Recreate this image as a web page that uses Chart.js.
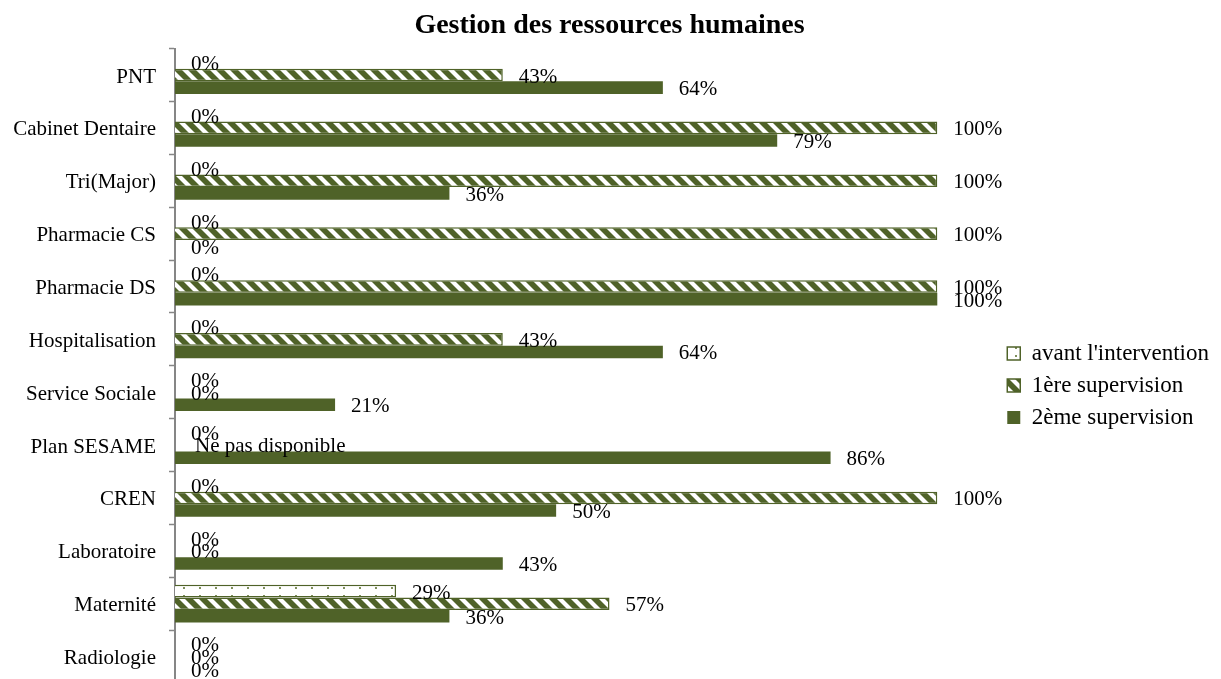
<!DOCTYPE html>
<html>
<head>
<meta charset="utf-8">
<script src="https://cdn.jsdelivr.net/npm/chart.js@4.4.1/dist/chart.umd.min.js"></script>
<style>
  html, body { margin: 0; padding: 0; background: #ffffff; overflow: hidden; }
  #wrap { width: 1221px; height: 679px; position: relative; overflow: hidden; }
  #chart { display: block; }
</style>
</head>
<body>
<div id="wrap"><canvas id="chart" width="1221" height="683"></canvas></div>
<script>
// Categories (top to bottom) and the three measurement rounds, in percent.
const categories = ['PNT', 'Cabinet Dentaire', 'Tri(Major)', 'Pharmacie CS', 'Pharmacie DS',
  'Hospitalisation', 'Service Sociale', 'Plan SESAME', 'CREN', 'Laboratoire', 'Maternité', 'Radiologie'];
const seriesNames = ["avant l'intervention", '1ère supervision', '2ème supervision'];
const avantIntervention = [0, 0, 0, 0, 0, 0, 0, 0, 0, 0, 29, 0];
const premiereSupervision = [43, 100, 100, 100, 100, 43, 0, null, 100, 0, 57, 0];
const deuxiemeSupervision = [64, 79, 36, 0, 100, 64, 21, 86, 50, 43, 36, 0];
const missingText = 'Ne pas disponible';

const GREEN = '#4F6228';
const SERIF = "'Liberation Serif', 'Times New Roman', serif";

// Wide downward diagonal hatch
function stripePattern() {
  const s = 14;
  const c = document.createElement('canvas');
  c.width = s; c.height = s;
  const g = c.getContext('2d');
  g.fillStyle = GREEN;
  g.fillRect(0, 0, s, s);
  g.fillStyle = '#ffffff';
  for (const k of [-s, 0, s]) {
    g.beginPath();
    g.moveTo(k, 0);
    g.lineTo(k + 6, 0);
    g.lineTo(k + 6 + s, s);
    g.lineTo(k + s, s);
    g.closePath();
    g.fill();
  }
  return g.createPattern(c, 'repeat');
}

// Sparse dotted fill
function dotPattern() {
  const c = document.createElement('canvas');
  c.width = 16; c.height = 8;
  const g = c.getContext('2d');
  g.fillStyle = '#ffffff';
  g.fillRect(0, 0, 16, 8);
  g.fillStyle = '#7f8f5c';
  g.fillRect(7, 3, 2, 2);
  return g.createPattern(c, 'repeat');
}

// Value labels written just past the end of each bar
const valueLabels = {
  id: 'valueLabels',
  afterDatasetsDraw(chart) {
    const ctx = chart.ctx;
    const x0 = chart.scales.x.getPixelForValue(0);
    ctx.save();
    ctx.font = '21px ' + SERIF;
    ctx.fillStyle = '#000000';
    ctx.textAlign = 'left';
    ctx.textBaseline = 'middle';
    chart.data.datasets.forEach((ds, i) => {
      const meta = chart.getDatasetMeta(i);
      meta.data.forEach((bar, j) => {
        const v = ds.data[j];
        if (v == null) {
          ctx.fillText(missingText, x0 + 20, bar.y + 1);
        } else {
          ctx.fillText(v + '%', bar.x + 16, bar.y + 2);
        }
      });
    });
    ctx.restore();
  }
};

const data = {
  labels: categories,
  datasets: [
    {
      label: seriesNames[0],
      data: avantIntervention,
      backgroundColor: dotPattern(),
      borderColor: GREEN,
      borderWidth: 1.5
    },
    {
      label: seriesNames[1],
      data: premiereSupervision,
      backgroundColor: stripePattern(),
      borderColor: GREEN,
      borderWidth: 1.5
    },
    {
      label: seriesNames[2],
      data: deuxiemeSupervision,
      backgroundColor: GREEN,
      borderColor: GREEN,
      borderWidth: 0
    }
  ]
};

new Chart(document.getElementById('chart'), {
  type: 'bar',
  data: data,
  plugins: [valueLabels],
  options: {
    indexAxis: 'y',
    responsive: false,
    animation: false,
    devicePixelRatio: 1,
    categoryPercentage: 3 / 4.2,
    barPercentage: 1,
    layout: { padding: { top: 0, left: 0, right: 2, bottom: 0 } },
    scales: {
      x: { display: false, min: 0, max: 108 },
      y: {
        grid: {
          drawOnChartArea: false,
          drawTicks: true,
          tickLength: 6,
          tickColor: '#868686',
          tickWidth: 1.5,
          offset: true
        },
        border: { display: true, color: '#868686', width: 2 },
        ticks: {
          font: { family: SERIF, size: 21 },
          color: '#000000',
          padding: 13,
          labelOffset: 2,
          autoSkip: false
        },
        afterFit(scale) {
          scale.width = 175;
          scale.paddingTop = 0;
          scale.paddingBottom = 0;
        }
      }
    },
    plugins: {
      title: {
        display: true,
        text: 'Gestion des ressources humaines',
        color: '#000000',
        font: { family: SERIF, size: 28, weight: 'bold', lineHeight: 1.2 },
        padding: { top: 9, bottom: 6 }
      },
      legend: {
        position: 'right',
        align: 'center',
        title: { display: true, text: '', padding: 0, font: { size: 88, lineHeight: 1 } },
        labels: {
          font: { family: SERIF, size: 23, lineHeight: 1 },
          color: '#000000',
          boxWidth: 13,
          boxHeight: 13,
          padding: 9
        }
      },
      tooltip: { enabled: false }
    }
  }
});
</script>
</body>
</html>
